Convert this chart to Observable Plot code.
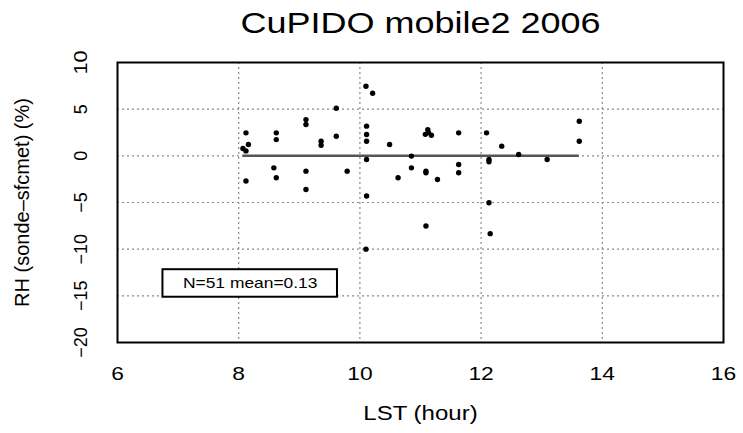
<!DOCTYPE html>
<html>
<head>
<meta charset="utf-8">
<script src="https://cdn.jsdelivr.net/npm/d3@7"></script>
<script src="https://cdn.jsdelivr.net/npm/@observablehq/plot@0.6"></script>
<style>
  html, body { margin: 0; padding: 0; background: #fff; }
</style>
</head>
<body>
<div id="chart"></div>
<script>
// ---- data ----
const lst = [
  8.12, 8.16, 8.07, 8.12, 8.12,
  8.62, 8.62, 8.58, 8.62,
  9.11, 9.11, 9.11, 9.11,
  9.36, 9.36,
  9.61, 9.61,
  9.79,
  10.10, 10.21, 10.11, 10.11, 10.11, 10.11, 10.11, 10.10,
  10.49,
  10.63,
  10.85, 10.85,
  11.09, 11.09, 11.12, 11.08, 11.18, 11.13, 11.09,
  11.28,
  11.63, 11.63, 11.63,
  12.09, 12.13, 12.13, 12.13, 12.15,
  12.34,
  12.62,
  13.09,
  13.62, 13.62
];
const rhDiff = [
  2.46, 1.21, 0.78, 0.53, -2.70,
  2.46, 1.74, -1.29, -2.35,
  3.88, 3.35, -1.64, -3.60,
  1.57, 1.14,
  5.10, 2.10,
  -1.64,
  7.45, 6.70, 3.18, 2.28, 1.57, -0.39, -4.31, -10.0,
  1.21,
  -2.35,
  -0.03, -1.29,
  -1.64, -1.82, 2.80, 2.30, 2.20, 2.50, -7.52,
  -2.53,
  2.46, -0.93, -1.82,
  2.46, -0.39, -0.64, -5.03, -8.34,
  1.04,
  0.15,
  -0.39,
  3.71, 1.57
];
const xTicks = [6, 8, 10, 12, 14, 16];
const yTicks = [10, 5, 0, -5, -10, -15, -20];
const xGrid = [8, 10, 12, 14];
const yGrid = [5, 0, -5, -10, -15];
const meanLevel = [0];
const xDomain = [6, 16];
const yDomain = [-20, 10];
const titleText = "CuPIDO mobile2 2006";
const xLabel = "LST (hour)";
const yLabel = "RH (sonde\u2013sfcmet) (%)";
const legendText = "N=51 mean=0.13";
// legend box location in data units (as placed in the original)
const legendBox = [{x1: 6.75, x2: 9.63, y1: -12.2, y2: -15.15}];

const points = lst.map((x, i) => ({x, y: rhDiff[i]}));
const fmt = d => String(d).replace("-", "\u2212");
const font = "'Liberation Sans', Arial, Helvetica, sans-serif";
const centered = {textAnchor: "middle", lineAnchor: "middle", fill: "#000"};

const chart = Plot.plot({
  width: 743,
  height: 433,
  marginLeft: 117,
  marginRight: 20,
  marginTop: 62,
  marginBottom: 91,
  style: {fontFamily: font, background: "#fff", color: "#000", overflow: "visible"},
  x: {domain: xDomain, axis: null},
  y: {domain: yDomain, axis: null},
  marks: [
    Plot.ruleX(xGrid, {x: d => d, stroke: "#8a8a8a", strokeWidth: 1.2, strokeDasharray: "2,3"}),
    Plot.ruleY(yGrid, {y: d => d, stroke: "#8a8a8a", strokeWidth: 1.2, strokeDasharray: "2,3"}),
    Plot.ruleY(meanLevel, {y: d => d, x1: d3.min(lst), x2: d3.max(lst), stroke: "#555", strokeWidth: 2.5}),
    Plot.dot(points, {x: "x", y: "y", r: 2.7, fill: "#000", stroke: "none"}),
    Plot.rect(legendBox, {x1: "x1", x2: "x2", y1: "y1", y2: "y2", fill: "#fff", stroke: "#000", strokeWidth: 2}),
    Plot.text([legendText], {x: (legendBox[0].x1 + legendBox[0].x2) / 2, y: (legendBox[0].y1 + legendBox[0].y2) / 2, text: d => d, fontSize: 14.5, ...centered}),
    Plot.frame({stroke: "#000", strokeWidth: 2}),
    // tick labels
    Plot.text(xTicks, {x: d => d, text: fmt, frameAnchor: "bottom", dy: 31, fontSize: 19, ...centered}),
    Plot.text(yTicks, {y: d => d, text: fmt, frameAnchor: "left", dx: -36, rotate: -90, fontSize: 18, ...centered}),
    // axis titles and title
    Plot.text([xLabel], {text: d => d, frameAnchor: "bottom", dy: 71, fontSize: 20, ...centered}),
    Plot.text([yLabel], {text: d => d, frameAnchor: "left", dx: -95, rotate: -90, fontSize: 20, ...centered}),
    Plot.text([titleText], {text: d => d, frameAnchor: "top", dy: -39, fontSize: 30, ...centered})
  ]
});

document.getElementById("chart").appendChild(chart);

// the original's lettering is horizontally widened; stretch the horizontal texts only
const horizontal = new Set([...xTicks.map(fmt), xLabel, titleText, legendText]);
d3.select(chart).selectAll("text").each(function () {
  if (!horizontal.has(this.textContent)) return;
  const len = this.getComputedTextLength();
  if (len > 0) {
    this.setAttribute("textLength", (len * 1.2).toFixed(1));
    this.setAttribute("lengthAdjust", "spacingAndGlyphs");
  }
});
</script>
</body>
</html>
